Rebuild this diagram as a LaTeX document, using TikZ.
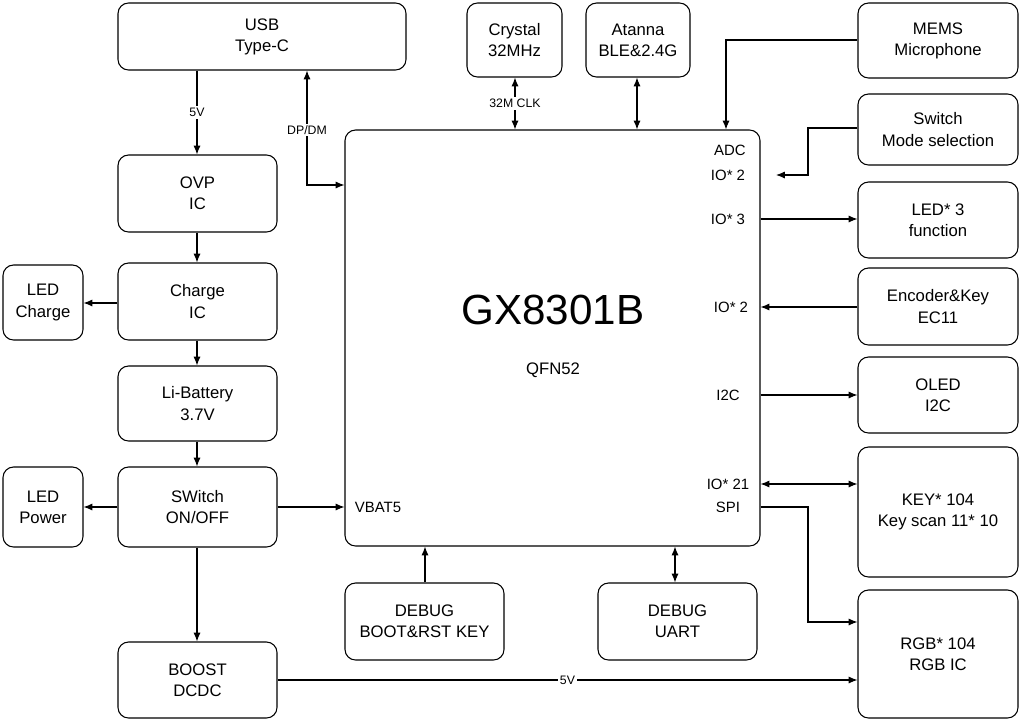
\documentclass[tikz,border=0pt]{standalone}
\usepackage{fontspec}
\setmainfont{Liberation Sans}
\usetikzlibrary{arrows.meta}
\begin{document}
\begin{tikzpicture}[x=0.02cm,y=-0.02cm,
  box/.style={draw,rounded corners=6pt,align=center,font=\fontsize{9.5}{12}\selectfont,line width=0.6pt},
  lbl/.style={font=\fontsize{7}{8}\selectfont,inner sep=1pt},
  con/.style={line width=0.6pt,-{Latex[length=5pt,width=4pt]}},
  bcon/.style={line width=0.6pt,{Latex[length=5pt,width=4pt]}-{Latex[length=5pt,width=4pt]}}]
\useasboundingbox (0,0) rectangle (1020,720);
\newcommand\bx[6]{\node[box,minimum width={(#4-#2)*0.02cm},minimum height={(#5-#3)*0.02cm}] (#1) at ({(#2+#4)/2},{(#3+#5)/2}) {#6};}
\bx{usb}{118}{3}{406}{70}{USB\\Type-C}
\bx{crys}{467}{3}{562}{77}{Crystal\\32MHz}
\bx{ant}{586}{3}{690}{77}{Atanna\\BLE\&2.4G}
\bx{mems}{858}{3}{1018}{78}{MEMS\\Microphone}
\bx{swm}{858}{94}{1018}{165}{Switch\\Mode selection}
\bx{led3}{858}{182}{1018}{258}{LED* 3\\function}
\bx{enc}{858}{268}{1018}{345}{Encoder\&Key\\EC11}
\bx{oled}{858}{357}{1018}{433}{OLED\\I2C}
\bx{key}{858}{447}{1018}{577}{KEY* 104\\Key scan 11* 10}
\bx{rgb}{858}{590}{1018}{718}{RGB* 104\\RGB IC}
\bx{main}{345}{130}{760}{546}{}
\bx{ovp}{118}{155}{277}{232}{OVP\\IC}
\bx{chg}{118}{263}{277}{340}{Charge\\IC}
\bx{bat}{118}{366}{277}{441}{Li-Battery\\3.7V}
\bx{sw}{118}{467}{277}{547}{SWitch\\ON/OFF}
\bx{boost}{118}{642}{277}{718}{BOOST\\DCDC}
\bx{ledc}{3}{265}{83}{340}{LED\\Charge}
\bx{ledp}{3}{467}{83}{547}{LED\\Power}
\bx{dbg}{345}{583}{504}{660}{DEBUG\\BOOT\&RST KEY}
\bx{uart}{598}{583}{757}{660}{DEBUG\\UART}
\node[font=\fontsize{24}{28}\selectfont] (title) at (553,310) {GX8301B};
\node[font=\fontsize{9.5}{12}\selectfont] (pkg) at (553,370) {QFN52};
\foreach \n/\t/\x/\y in {padc/ADC/730/150,pio2a/IO* 2/728/175,pio3/IO* 3/728/219,pio2b/IO* 2/731/307,pi2c/I2C/728/395,pio21/IO* 21/728/484,pspi/SPI/728/507,pvb/VBAT5/378/507}
  \node[lbl,font=\fontsize{8.5}{10}\selectfont] (\n) at (\x,\y) {\t};
\draw[con] (usb.south -| 197,0) -- node[lbl,fill=white]{5V} (ovp.north -| 197,0);
\draw[con] (ovp.south -| 197,0) -- (chg.north -| 197,0);
\draw[con] (chg.west |- 0,303) -- (ledc.east |- 0,303);
\draw[con] (chg.south -| 197,0) -- (bat.north -| 197,0);
\draw[con] (bat.south -| 197,0) -- (sw.north -| 197,0);
\draw[con] (sw.west |- 0,507) -- (ledp.east |- 0,507);
\draw[con] (sw.east |- 0,507) -- (main.west |- 0,507);
\draw[con] (sw.south -| 197,0) -- (boost.north -| 197,0);
\draw[con] (boost.east |- 0,680) -- node[lbl,fill=white]{5V} (rgb.west |- 0,680);
\draw[bcon] (main.west |- 0,185) -- (307,185) -- (usb.south -| 307,0);
\node[lbl,fill=white] (dpdm) at (307,130) {DP/DM};
\draw[bcon] (crys.south -| 515,0) -- node[lbl,fill=white]{32M CLK} (main.north -| 515,0);
\draw[bcon] (ant.south -| 637,0) -- (main.north -| 637,0);
\draw[con] (mems.west |- 0,40) -- (726,40) -- (main.north -| 726,0);
\draw[con] (swm.west |- 0,128) -- (808,128) -- (808,175) -- (776,175);
\draw[con] (main.east |- 0,219) -- (led3.west |- 0,219);
\draw[con] (enc.west |- 0,307) -- (main.east |- 0,307);
\draw[con] (main.east |- 0,395) -- (oled.west |- 0,395);
\draw[bcon] (main.east |- 0,484) -- (key.west |- 0,484);
\draw[con] (main.east |- 0,507) -- (808,507) -- (808,622) -- (rgb.west |- 0,622);
\draw[con] (dbg.north -| 425,0) -- (main.south -| 425,0);
\draw[bcon] (uart.north -| 675,0) -- (main.south -| 675,0);
\end{tikzpicture}
\end{document}
